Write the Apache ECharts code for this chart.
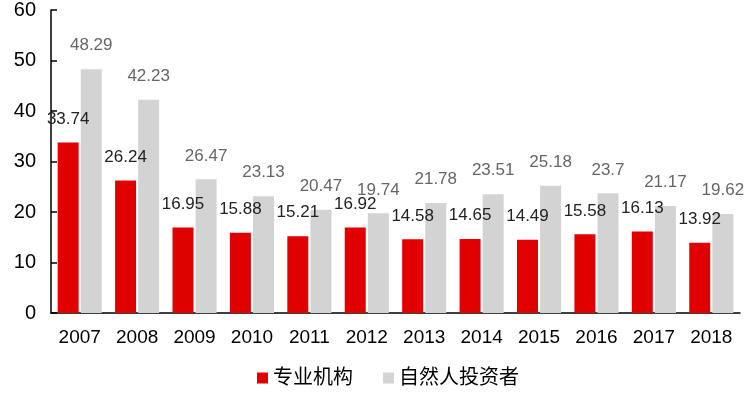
<!DOCTYPE html>
<html>
<head>
<meta charset="utf-8">
<script src="https://cdn.jsdelivr.net/npm/echarts@6/dist/echarts.min.js"></script>
<style>
  html, body { margin: 0; padding: 0; background: #fff; }
  #view1 { width: 750px; height: 399px; }
</style>
</head>
<body>
<div id="view1"></div>
<script>
var years = ["2007", "2008", "2009", "2010", "2011", "2012", "2013", "2014", "2015", "2016", "2017", "2018"];
var pro = [33.74, 26.24, 16.95, 15.88, 15.21, 16.92, 14.58, 14.65, 14.49, 15.58, 16.13, 13.92];
var retail = [48.29, 42.23, 26.47, 23.13, 20.47, 19.74, 21.78, 23.51, 25.18, 23.7, 21.17, 19.62];

var font = "Liberation Sans, 'Noto Sans CJK SC', sans-serif";

var option = {
  animation: false,
  textStyle: { fontFamily: font },
  grid: {
    left: 51,
    right: 10,
    top: 10,
    bottom: 86
  },
  legend: {
    data: ["专业机构", "自然人投资者"],
    bottom: 6,
    left: 252,
    itemWidth: 11,
    itemHeight: 11,
    itemGap: 30,
    icon: "rect",
    textStyle: { fontSize: 20, color: "#000", fontFamily: font }
  },
  xAxis: {
    type: "category",
    data: years,
    axisLine: { lineStyle: { color: "#000", width: 1.5 } },
    axisTick: { inside: true, length: 6, lineStyle: { color: "#000", width: 1.5 } },
    axisLabel: { fontSize: 19, color: "#000", margin: 15, fontFamily: font }
  },
  yAxis: {
    type: "value",
    min: 0,
    max: 60,
    interval: 10,
    splitLine: { show: false },
    axisLine: { show: true, lineStyle: { color: "#000", width: 1.5 } },
    axisTick: { show: true, inside: true, length: 6, lineStyle: { color: "#000", width: 1.5 } },
    axisLabel: { fontSize: 20, color: "#000", margin: 15, fontFamily: font }
  },
  series: [
    {
      name: "专业机构",
      type: "bar",
      data: pro,
      barWidth: 21,
      barGap: "10%",
      color: "#e00000",
      label: {
        show: true,
        position: "top",
        distance: 15,
        fontSize: 17,
        color: "#222",
        fontFamily: font
      }
    },
    {
      name: "自然人投资者",
      type: "bar",
      data: retail,
      barWidth: 21,
      color: "#d3d3d3",
      label: {
        show: true,
        position: "top",
        distance: 15,
        fontSize: 17,
        color: "#666",
        fontFamily: font
      }
    }
  ]
};

echarts.init(document.getElementById("view1")).setOption(option);
</script>
</body>
</html>
